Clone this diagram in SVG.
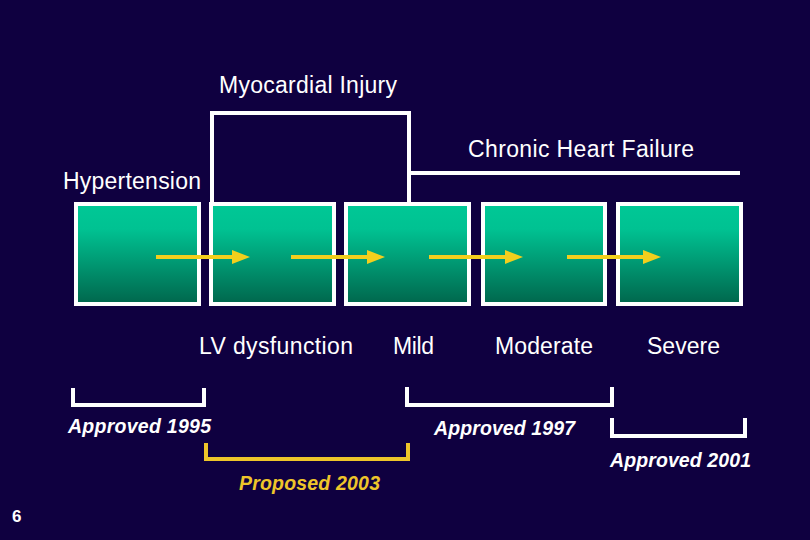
<svg xmlns="http://www.w3.org/2000/svg" width="810" height="540" viewBox="0 0 810 540">
<defs>
<linearGradient id="boxg" x1="0" y1="0" x2="0" y2="1">
<stop offset="0" stop-color="#00c896"/>
<stop offset="0.25" stop-color="#00c292"/>
<stop offset="1" stop-color="#00664c"/>
</linearGradient>
<marker id="ah" markerWidth="18" markerHeight="14" refX="0" refY="7" orient="auto" markerUnits="userSpaceOnUse">
<path d="M0,0 L18,7 L0,14 z" fill="#f2cf1d"/>
</marker>
<style>
.box{fill:url(#boxg);stroke:#ffffff;stroke-width:4}
.wl{fill:none;stroke:#ffffff;stroke-width:4}
.yl{fill:none;stroke:#eec52a;stroke-width:4}
.arr{stroke:#f2cf1d;stroke-width:4;marker-end:url(#ah)}
.t{font-family:"Liberation Sans",Arial,sans-serif;font-size:23px;fill:#ffffff}
.b{font-family:"Liberation Sans",Arial,sans-serif;font-size:19.5px;font-weight:bold;font-style:italic;fill:#ffffff}
.by{fill:#eec52a}
</style>
</defs>
<rect x="0" y="0" width="810" height="540" fill="#0f0040"/>

<g id="stage1"><rect class="box" x="76" y="204" width="123" height="100"/></g>
<g id="stage2"><rect class="box" x="211" y="204" width="123" height="100"/></g>
<g id="stage3"><rect class="box" x="346" y="204" width="123" height="100"/></g>
<g id="stage4"><rect class="box" x="483" y="204" width="122" height="100"/></g>
<g id="stage5"><rect class="box" x="618" y="204" width="123" height="100"/></g>

<g id="connectors">
<path class="wl" d="M212,202 V113 H409 V202"/>
<path class="wl" d="M409,173 H740"/>
<line class="arr" x1="156" y1="257" x2="232" y2="257"/>
<line class="arr" x1="291" y1="257" x2="367" y2="257"/>
<line class="arr" x1="429" y1="257" x2="505" y2="257"/>
<line class="arr" x1="567" y1="257" x2="643" y2="257"/>
<path class="wl" d="M73,388 V405 H204 V388"/>
<path class="yl" d="M206,443 V459 H408 V443"/>
<path class="wl" d="M407,387 V405 H612 V387"/>
<path class="wl" d="M612,418 V436 H745 V418"/>
</g>

<g id="labels">
<text class="t" x="219" y="93" textLength="178" lengthAdjust="spacing">Myocardial Injury</text>
<text class="t" x="468" y="157" textLength="226" lengthAdjust="spacing">Chronic Heart Failure</text>
<text class="t" x="63" y="189" textLength="138" lengthAdjust="spacing">Hypertension</text>
<text class="t" x="199" y="354" textLength="154" lengthAdjust="spacing">LV dysfunction</text>
<text class="t" x="393" y="354" textLength="41" lengthAdjust="spacing">Mild</text>
<text class="t" x="495" y="354" textLength="98" lengthAdjust="spacing">Moderate</text>
<text class="t" x="647" y="354" textLength="73" lengthAdjust="spacing">Severe</text>
<text class="b" x="68" y="433" textLength="143" lengthAdjust="spacing">Approved 1995</text>
<text class="b" x="434" y="435" textLength="141" lengthAdjust="spacing">Approved 1997</text>
<text class="b" x="610" y="467" textLength="141" lengthAdjust="spacing">Approved 2001</text>
<text class="b by" x="239" y="490" textLength="141" lengthAdjust="spacing">Proposed 2003</text>
<text x="12" y="522" style="font-family:'Liberation Sans',Arial,sans-serif;font-size:17px;font-weight:bold;fill:#ffffff">6</text>
</g>
</svg>
